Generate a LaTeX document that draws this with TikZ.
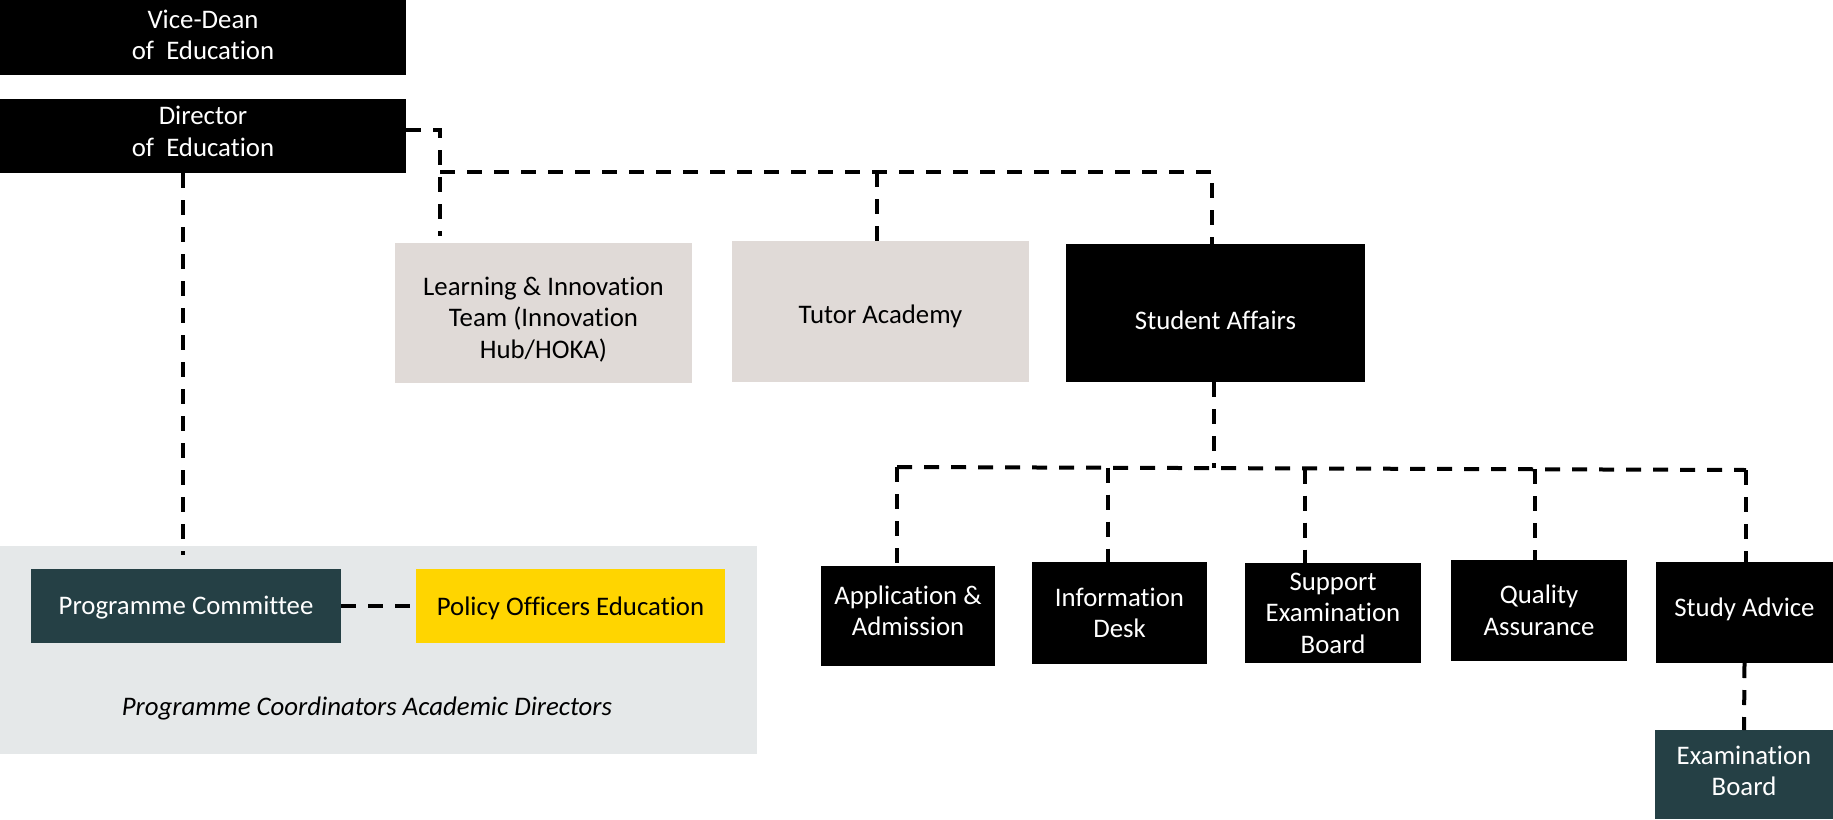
\documentclass[tikz,border=0pt]{standalone}
\usepackage{fontspec}
\setmainfont{Carlito}[Ligatures=NoCommon]
\usetikzlibrary{calc}
\definecolor{warmgrey}{RGB}{224,218,215}
\definecolor{regiongrey}{RGB}{229,232,233}
\definecolor{darkteal}{RGB}{37,64,69}
\definecolor{gold}{RGB}{255,213,0}
\newcommand\mvtxt[2]{\raisebox{#1}[\height][\depth]{#2}}
\tikzset{
  box/.style={inner sep=0pt, outer sep=0pt, align=center, font=\fontsize{26.8}{31.5}\selectfont},
  blackbox/.style={box, fill=black, text=white},
  warmbox/.style={box, fill=warmgrey, text=black},
  tealbox/.style={box, fill=darkteal, text=white},
  goldbox/.style={box, fill=gold, text=black},
  conn/.style={line width=4pt, dash pattern=on 15pt off 12pt, black},
}
\begin{document}
\begin{tikzpicture}[x=1pt,y=-1pt]
\useasboundingbox (0,0) rectangle (1833,819);
% region
\fill[regiongrey] (0,546) rectangle (757,754);
\node[box, font=\fontsize{26.8}{31.5}\selectfont\itshape] (pcad) at (367,708) {Programme Coordinators Academic Directors};
% top nodes
\node[blackbox, minimum width=406, minimum height=75] (vd) at (203,37.5) {\mvtxt{2.5pt}{Vice-Dean}\\\mvtxt{2.5pt}{of\ \ Education}};
\node[blackbox, minimum width=406, minimum height=74] (dir) at (203,136) {\mvtxt{4.5pt}{Director}\\\mvtxt{4.5pt}{of\ \ Education}};
\node[warmbox, minimum width=297, minimum height=140] (lit) at (543.5,313) {\mvtxt{-6.5pt}{Learning \& Innovation}\\\mvtxt{-6.5pt}{Team (Innovation}\\\mvtxt{-6.5pt}{Hub/HOKA)}};
\node[warmbox, minimum width=297, minimum height=141] (tut) at (880.5,311.5) {\mvtxt{-4.5pt}{Tutor Academy}};
\node[blackbox, minimum width=299, minimum height=138] (sa) at (1215.5,313) {\mvtxt{-7pt}{Student Affairs}};
% bottom row
\node[blackbox, minimum width=174, minimum height=100] (app) at (908,616) {\mvtxt{5pt}{Application \&}\\\mvtxt{5pt}{Admission}};
\node[blackbox, minimum width=175, minimum height=102] (inf) at (1119.5,613) {Information\\Desk};
\node[blackbox, minimum width=176, minimum height=100] (sup) at (1333,613) {Support\\Examination\\Board};
\node[blackbox, minimum width=176, minimum height=101] (qa) at (1539,610.5) {Quality\\Assurance};
\node[blackbox, minimum width=177, minimum height=101] (sad) at (1744.5,612.5) {\mvtxt{3.5pt}{Study Advice}};
\node[tealbox, minimum width=178, minimum height=89] (exb) at (1744,774.5) {\mvtxt{3.5pt}{Examination}\\\mvtxt{3.5pt}{Board}};
% region nodes
\node[tealbox, minimum width=310, minimum height=74] (pc) at (186,606) {\mvtxt{-2pt}{Programme Committee}};
\node[goldbox, minimum width=309, minimum height=74] (poe) at (570.5,606) {\mvtxt{-2pt}{Policy Officers Education}};
% coordinates
\coordinate (k1) at (440,130);
\coordinate (k2) at (440,236);
\coordinate (b1) at (440,172);
\coordinate (b2) at (1212,172);
\coordinate (t1) at (877,172);
\coordinate (s1) at (1214,468);
\coordinate (lb1) at (897,467);
\coordinate (lb2) at (1746,470);
\coordinate (pcend) at (183,555);
\coordinate (infd) at (1108,467.5);
\coordinate (supd) at (1305,468.5);
\coordinate (qad) at (1535,469);
% connectors
\draw[conn] ([yshift=6pt]dir.east) -- (k1) -- (k2);
\draw[conn] (b1) -- (b2) -- (b2 |- sa.north);
\draw[conn] (t1) -- (t1 |- tut.north);
\draw[conn] (pcend |- dir.south) -- (pcend);
\draw[conn] (sa.south -| s1) -- (s1);
\draw[conn] (lb1) -- (lb2);
\draw[conn] (lb1) -- (lb1 |- app.north);
\draw[conn] (infd) -- (infd |- inf.north);
\draw[conn] (supd) -- (supd |- sup.north);
\draw[conn] (qad) -- (qad |- qa.north);
\draw[conn] (lb2) -- (lb2 |- sad.north);
\draw[conn] (sad.south) -- (exb.north);
\draw[conn] (pc.east) -- (poe.west);
\end{tikzpicture}
\end{document}
